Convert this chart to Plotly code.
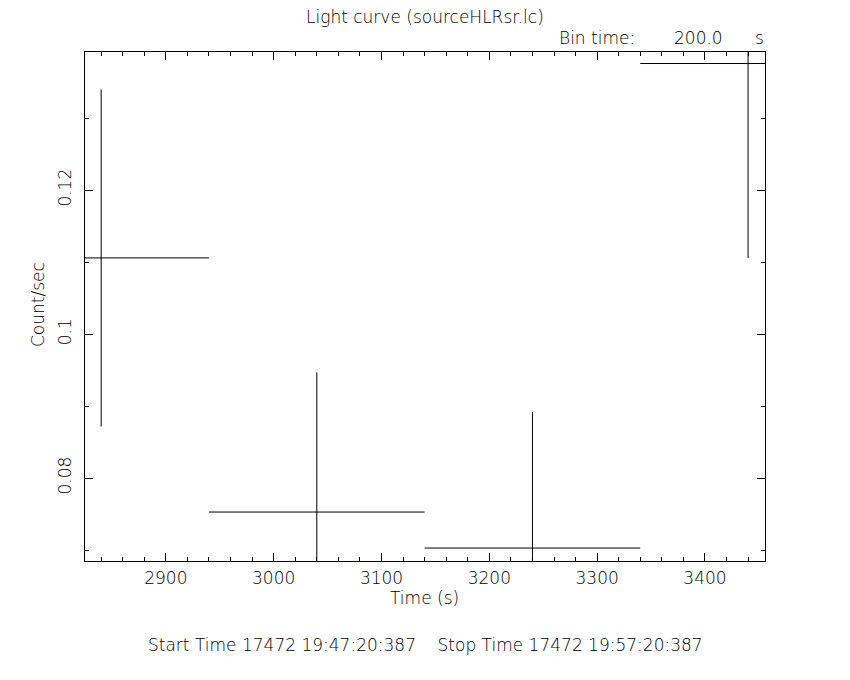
import plotly.graph_objects as go

# Data
time_center = [2840, 3040, 3240, 3440]
half_bin = [100, 100, 100, 100]
rate = [0.1106, 0.0753, 0.0703, 0.1376]
rate_err = [0.0234, 0.0194, 0.0189, 0.0270]

title_text = "Light curve (sourceHLRsr.lc)"
bin_time = "200.0"
start_stop = "Start Time 17472 19:47:20:387    Stop Time 17472 19:57:20:387"

FONT = "DejaVu Sans"
FS = 17
W, H = 850, 680
OFF = 8  # page body margin
L, T, PW, PH = 85 - OFF, 52 - OFF, 680, 509
R, B = W - L - PW, H - T - PH

fig = go.Figure()
fig.add_trace(go.Scatter(
    x=time_center, y=rate, mode="markers",
    marker=dict(size=1, color="black"),
    error_x=dict(type="data", array=half_bin, width=0, color="black", thickness=1),
    error_y=dict(type="data", array=rate_err, width=0, color="black", thickness=1),
    showlegend=False, hoverinfo="skip",
))

tfont = dict(family=FONT, size=FS, color="black", weight=200)
axis_common = dict(
    showline=True, linecolor="black", linewidth=1, mirror="allticks",
    ticks="inside", ticklen=8, tickcolor="black", tickwidth=1,
    showgrid=False, zeroline=False,
    tickfont=tfont,
)
fig.update_xaxes(range=[2825, 3455.7], dtick=100, tick0=0,
                 minor=dict(ticks="inside", ticklen=4, dtick=20, tickcolor="black", showgrid=False),
                 ticklabelstandoff=2,
                 **axis_common)
fig.update_yaxes(range=[0.0685, 0.1392], dtick=0.02, tick0=0, tickangle=-90,
                 tickformat="~g", ticklabelstandoff=6,
                 minor=dict(ticks="inside", ticklen=4, dtick=0.01, tickcolor="black", showgrid=False),
                 **axis_common)

texts = [
    # text, x px, y px, xanchor, angle
    (title_text, 425, 17, "center", 0),
    ("Bin time:", 557, 38, "left", 0),
    (bin_time, 672, 38, "left", 0),
    ("s", 753, 38, "left", 0),
    ("Time (s)", 424, 598, "center", 0),
    ("Count/sec", 38, 305, "center", -90),
    (start_stop, 425, 645, "center", 0),
]
anns = []
for t, px, py, xa, ang in texts:
    anns.append(dict(
        text=t, xref="paper", yref="paper",
        x=(px - OFF - L) / PW, y=(H - B - (py - OFF)) / PH,
        xanchor=xa, yanchor="middle", textangle=ang, showarrow=False, font=tfont,
    ))

fig.update_layout(
    width=W, height=H,
    margin=dict(l=L, r=R, t=T, b=B),
    paper_bgcolor="white", plot_bgcolor="white",
    font=tfont,
    annotations=anns,
)
fig.write_html("out.html")
